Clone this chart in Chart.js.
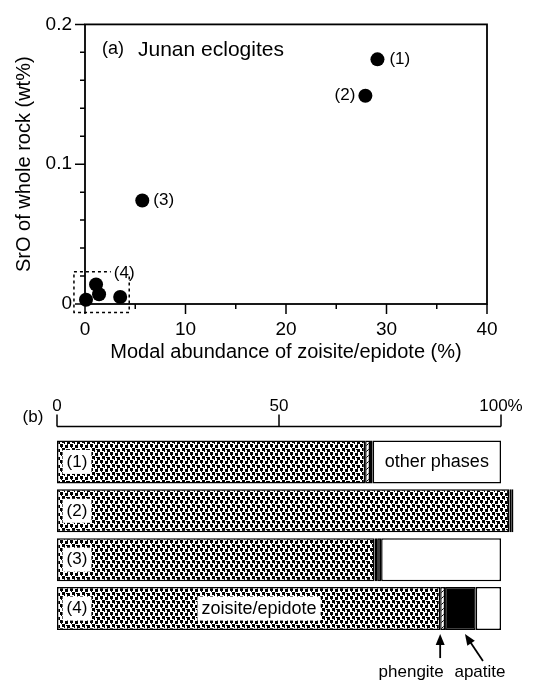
<!DOCTYPE html>
<html>
<head>
<meta charset="utf-8">
<script src="https://cdn.jsdelivr.net/npm/chart.js@4.4.0/dist/chart.umd.min.js"></script>
<style>
body { margin: 0; background: #fff; }
#wrap { position: relative; width: 534px; height: 684px; }
canvas { position: absolute; left: 0; }
</style>
</head>
<body>
<div id="wrap">
	<canvas id="scatterChart" width="534" height="365" style="top:0px"></canvas>
	<canvas id="barChart" width="534" height="304" style="top:380px"></canvas>
</div>
<script>
// (a) SrO vs modal zoisite/epidote
var modalZo = [29.1, 27.9, 5.7, 0.1, 1.1, 1.4, 3.5];
var srO = [0.175, 0.149, 0.074, 0.003, 0.014, 0.007, 0.005];
var pointLabels = ['(1)', '(2)', '(3)', '(4)'];
var boxX = [-1.1, 4.4];
var boxY = [-0.006, 0.023];

// (b) modal composition, %
var samples = ['(1)', '(2)', '(3)', '(4)'];
var zoisite = [69.4, 101.9, 71.5, 86.3];
var phengite = [1.1, 0.4, 0.6, 1.1];
var apatite = [0.6, 0.5, 0.9, 6.9];
var others = [28.9, 0, 27.0, 5.7];
var pctTicks = [0, 50, 100];

var FONT = '"Liberation Sans", Arial, Helvetica, sans-serif';
Chart.defaults.font.family = FONT;
Chart.defaults.color = '#000';

var scatterDecor = {
	id: 'scatterDecor',
	afterDraw: function(chart) {
		var c = chart.ctx, a = chart.chartArea, xs = chart.scales.x, ys = chart.scales.y;
		c.save();
		c.strokeStyle = '#000';
		c.lineWidth = 1.8;
		c.strokeRect(a.left, a.top, a.right - a.left, a.bottom - a.top);
		c.lineWidth = 1.5;
		c.beginPath();
		for (var v = 0; v <= 40; v += 5) {
			var px = xs.getPixelForValue(v);
			c.moveTo(px, a.bottom);
			c.lineTo(px, a.bottom + (v % 10 == 0 ? 10 : 5));
		}
		for (var i = 0; i <= 10; i++) {
			var py = ys.getPixelForValue(i * 0.02);
			c.moveTo(a.left, py);
			c.lineTo(a.left - (i % 5 == 0 ? 10 : 5), py);
		}
		c.stroke();

		// dashed box round the (4) group
		var bx1 = xs.getPixelForValue(boxX[0]), bx2 = xs.getPixelForValue(boxX[1]);
		var by1 = ys.getPixelForValue(boxY[1]), by2 = ys.getPixelForValue(boxY[0]);
		c.setLineDash([3, 3]);
		c.strokeRect(bx1, by1, bx2 - bx1, by2 - by1);
		c.setLineDash([]);

		c.fillStyle = '#000';
		c.textBaseline = 'middle';
		c.font = '17px ' + FONT;
		var pts = chart.getDatasetMeta(0).data;
		c.textAlign = 'left';
		c.fillText(pointLabels[0], pts[0].x + 12, pts[0].y);
		c.textAlign = 'right';
		c.fillText(pointLabels[1], pts[1].x - 10, pts[1].y);
		c.textAlign = 'left';
		c.fillText(pointLabels[2], pts[2].x + 11, pts[2].y);
		c.textAlign = 'center';
		var w4 = c.measureText(pointLabels[3]).width;
		c.fillStyle = '#fff';
		c.fillRect(bx2 - 5 - w4 / 2 - 3, by1 - 1, w4 + 6, 4);
		c.fillStyle = '#000';
		c.fillText(pointLabels[3], bx2 - 5, by1 + 1);

		c.textAlign = 'left';
		c.font = '18px ' + FONT;
		c.fillText('(a)', a.left + 17, a.top + 25);
		c.font = '21px ' + FONT;
		c.fillText('Junan eclogites', a.left + 53, a.top + 26);
		c.restore();
	}
};

new Chart(document.getElementById('scatterChart'), {
	type: 'scatter',
	data: {
		datasets: [{
			data: modalZo.map(function(x, i) { return {x: x, y: srO[i]}; }),
			pointRadius: 7,
			pointBackgroundColor: '#000',
			pointBorderColor: '#000',
			pointBorderWidth: 0,
			clip: false
		}]
	},
	options: {
		responsive: false,
		animation: false,
		layout: { padding: { top: 15, right: 47, left: 0, bottom: 0 } },
		plugins: { legend: { display: false }, tooltip: { enabled: false } },
		scales: {
			x: {
				min: 0, max: 40,
				afterFit: function(s) { s.height = 61; },
				grid: { display: false, drawTicks: false },
				border: { display: false },
				ticks: { stepSize: 10, padding: 14, font: { size: 19 } },
				title: { display: true, text: 'Modal abundance of zoisite/epidote (%)', font: { size: 20 }, padding: { top: 0, bottom: 1 } }
			},
			y: {
				min: 0, max: 0.2,
				afterFit: function(s) { s.width = 85; },
				grid: { display: false, drawTicks: false },
				border: { display: false },
				ticks: { stepSize: 0.1, padding: 13, font: { size: 19 } },
				title: { display: true, text: 'SrO of whole rock (wt%)', font: { size: 20 }, padding: { top: 12, bottom: 0 } }
			}
		}
	},
	plugins: [scatterDecor]
});

var bctx = document.getElementById('barChart').getContext('2d');

function stipple() {
	var t = document.createElement('canvas');
	t.width = 10; t.height = 8;
	var g = t.getContext('2d');
	g.fillStyle = '#fff'; g.fillRect(0, 0, 10, 8);
	g.fillStyle = '#000';
	g.fillRect(0, 0, 3, 3); g.fillRect(1, 3, 1, 1);
	g.fillRect(5, 1, 3, 3); g.fillRect(7, 0, 1, 1);
	g.fillRect(2, 4, 3, 3); g.fillRect(4, 7, 1, 1);
	g.fillRect(7, 5, 3, 3); g.fillRect(6, 5, 1, 1);
	return bctx.createPattern(t, 'repeat');
}
function hatch() {
	var t = document.createElement('canvas');
	t.width = 6; t.height = 6;
	var g = t.getContext('2d');
	g.fillStyle = '#fff'; g.fillRect(0, 0, 6, 6);
	g.strokeStyle = '#000'; g.lineWidth = 1;
	g.beginPath(); g.moveTo(0, 6); g.lineTo(6, 0); g.stroke();
	return bctx.createPattern(t, 'repeat');
}

function arrow(c, x1, y1, x2, y2) {
	var ang = Math.atan2(y2 - y1, x2 - x1);
	c.beginPath();
	c.moveTo(x1, y1);
	c.lineTo(x2 - 8 * Math.cos(ang), y2 - 8 * Math.sin(ang));
	c.stroke();
	c.beginPath();
	c.moveTo(x2, y2);
	c.lineTo(x2 - 11 * Math.cos(ang) + 4.5 * Math.sin(ang), y2 - 11 * Math.sin(ang) - 4.5 * Math.cos(ang));
	c.lineTo(x2 - 11 * Math.cos(ang) - 4.5 * Math.sin(ang), y2 - 11 * Math.sin(ang) + 4.5 * Math.cos(ang));
	c.closePath();
	c.fill();
}

function boxedText(c, txt, x, y, h) {
	var w = c.measureText(txt).width;
	c.fillStyle = '#fff';
	c.fillRect(x - w / 2 - 4, y - h / 2, w + 8, h);
	c.fillStyle = '#000';
	c.fillText(txt, x, y);
}

var barDecor = {
	id: 'barDecor',
	afterDraw: function(chart) {
		var c = chart.ctx, a = chart.chartArea, xs = chart.scales.x;
		var axisY = a.top - 11;
		c.save();
		c.strokeStyle = '#000';
		c.fillStyle = '#000';
		c.lineWidth = 1.5;
		c.beginPath();
		c.moveTo(xs.getPixelForValue(0), axisY);
		c.lineTo(xs.getPixelForValue(100), axisY);
		pctTicks.forEach(function(v) {
			var px = xs.getPixelForValue(v);
			c.moveTo(px, axisY);
			c.lineTo(px, axisY - 12);
		});
		c.stroke();

		c.textBaseline = 'middle';
		c.textAlign = 'center';
		c.font = '17px ' + FONT;
		c.fillText('(b)', 33, axisY - 9);

		var zo = chart.getDatasetMeta(0).data;
		var ph = chart.getDatasetMeta(1).data;
		var ot = chart.getDatasetMeta(3).data;
		for (var i = 0; i < samples.length; i++) {
			boxedText(c, samples[i], zo[i].base + 20, zo[i].y, 24);
		}
		c.font = '18px ' + FONT;
		c.fillText('other phases', (ot[0].x + ot[0].base) / 2, ot[0].y);
		boxedText(c, 'zoisite/epidote', xs.getPixelForValue(45.5), zo[3].y, 24);

		var bot = zo[3].y + zo[3].height / 2;
		c.lineWidth = 1.8;
		arrow(c, ph[3].base, bot + 28, ph[3].base, bot + 4);
		var apx = xs.getPixelForValue(zoisite[3] + phengite[3] + apatite[3] * 0.65);
		arrow(c, apx + 18, bot + 31, apx, bot + 4);
		c.font = '17px ' + FONT;
		c.fillText('phengite', ph[3].base - 29, bot + 42);
		c.fillText('apatite', apx + 15, bot + 42);
		c.restore();
	}
};

var segStyle = { borderColor: '#000', borderWidth: 1.5, borderSkipped: false, clip: false };

new Chart(bctx, {
	type: 'bar',
	data: {
		labels: samples,
		datasets: [
			Object.assign({ label: 'zoisite/epidote', data: zoisite, backgroundColor: stipple() }, segStyle),
			Object.assign({ label: 'phengite', data: phengite, backgroundColor: hatch() }, segStyle),
			Object.assign({ label: 'apatite', data: apatite, backgroundColor: '#000' }, segStyle),
			Object.assign({ label: 'other phases', data: others, backgroundColor: '#fff' }, segStyle)
		]
	},
	options: {
		indexAxis: 'y',
		responsive: false,
		animation: false,
		layout: { padding: { top: 0, right: 33, left: 57, bottom: 51 } },
		plugins: { legend: { display: false }, tooltip: { enabled: false } },
		datasets: { bar: { categoryPercentage: 1, barPercentage: 0.88 } },
		scales: {
			x: {
				position: 'top',
				stacked: true,
				min: 0, max: 100,
				afterFit: function(s) { s.height = 57.5; },
				grid: { display: false, drawTicks: true, tickLength: 14 },
				border: { display: false },
				ticks: {
					stepSize: 50, padding: 7, font: { size: 17 },
					callback: function(v) { return v == 100 ? '100%' : v; }
				}
			},
			y: { stacked: true, display: false }
		}
	},
	plugins: [barDecor]
});
</script>
</body>
</html>
